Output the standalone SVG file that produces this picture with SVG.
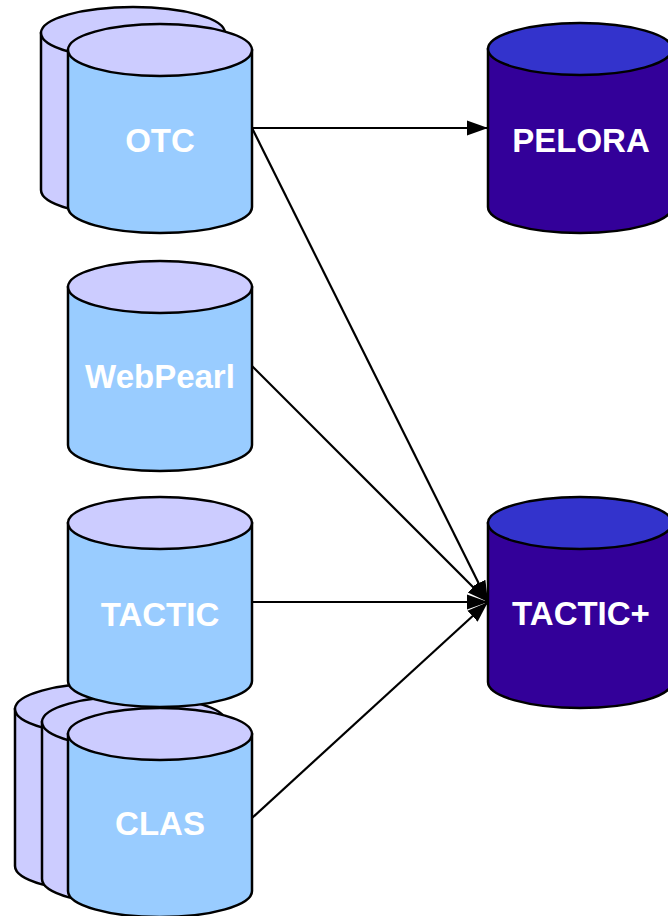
<svg xmlns="http://www.w3.org/2000/svg" width="668" height="916" viewBox="0 0 668 916">
  <style>
    .side { stroke: #000; stroke-width: 2.5; }
    .light .body { fill: #99CCFF; }
    .light .top, .light .back { fill: #CCCCFF; }
    .dark .body { fill: #330099; }
    .dark .top { fill: #3333CC; }
    .label { font-family: "Liberation Sans", Arial, sans-serif; font-weight: bold; font-size: 33px; fill: #FFFFFF; text-anchor: middle; }
    .conn { stroke: #000; stroke-width: 2.2; fill: none; }
  </style>
  <defs>
    <marker id="arrow" markerUnits="userSpaceOnUse" markerWidth="24" markerHeight="18" refX="21" refY="9" orient="auto">
      <path d="M0,1.5 L21,9 L0,16.5 Z" fill="#000"/>
    </marker>
  </defs>
  <rect width="668" height="916" fill="#FFFFFF"/>

  <!-- OTC: stacked pair of cylinders -->
  <g id="otc" class="light">
    <path class="side back" d="M41,33 V190 A92,26 0 0 0 225,190 V33 Z"/>
    <ellipse class="side top" cx="133" cy="33" rx="92" ry="26"/>
    <path class="side body" d="M68,50 V207 A92,26 0 0 0 252,207 V50 Z"/>
    <ellipse class="side top" cx="160" cy="50" rx="92" ry="26"/>
    <text class="label" x="160" y="152">OTC</text>
  </g>

  <!-- WebPearl -->
  <g id="webpearl" class="light">
    <path class="side body" d="M68,287 V445 A92,26 0 0 0 252,445 V287 Z"/>
    <ellipse class="side top" cx="160" cy="287" rx="92" ry="26"/>
    <text class="label" x="160" y="388">WebPearl</text>
  </g>

  <!-- CLAS rear cylinders sit behind TACTIC -->
  <g id="clas-back" class="light">
    <path class="side back" d="M15,709 V866 A92,26 0 0 0 199,866 V709 Z"/>
    <ellipse class="side top" cx="107" cy="709" rx="92" ry="26"/>
    <path class="side back" d="M42,722 V879 A92,26 0 0 0 226,879 V722 Z"/>
    <ellipse class="side top" cx="134" cy="722" rx="92" ry="26"/>
  </g>

  <!-- TACTIC -->
  <g id="tactic" class="light">
    <path class="side body" d="M68,523 V681 A92,26 0 0 0 252,681 V523 Z"/>
    <ellipse class="side top" cx="160" cy="523" rx="92" ry="26"/>
    <text class="label" x="160" y="626">TACTIC</text>
  </g>

  <!-- CLAS front cylinder -->
  <g id="clas" class="light">
    <path class="side body" d="M68,734 V891 A92,26 0 0 0 252,891 V734 Z"/>
    <ellipse class="side top" cx="160" cy="734" rx="92" ry="26"/>
    <text class="label" x="160" y="835">CLAS</text>
  </g>

  <!-- PELORA -->
  <g id="pelora" class="dark">
    <path class="side body" d="M488,49 V207 A92,26 0 0 0 672,207 V49 Z"/>
    <ellipse class="side top" cx="580" cy="49" rx="92" ry="26"/>
    <text class="label" x="581" y="152">PELORA</text>
  </g>

  <!-- TACTIC+ -->
  <g id="tacticplus" class="dark">
    <path class="side body" d="M488,523 V682 A92,26 0 0 0 672,682 V523 Z"/>
    <ellipse class="side top" cx="580" cy="523" rx="92" ry="26"/>
    <text class="label" x="581" y="625">TACTIC+</text>
  </g>

  <!-- connectors -->
  <g id="connectors">
    <line class="conn" x1="252" y1="128" x2="488" y2="128" marker-end="url(#arrow)"/>
    <line class="conn" x1="252" y1="128" x2="488" y2="602" marker-end="url(#arrow)"/>
    <line class="conn" x1="252" y1="366" x2="488" y2="602" marker-end="url(#arrow)"/>
    <line class="conn" x1="252" y1="602" x2="488" y2="602" marker-end="url(#arrow)"/>
    <line class="conn" x1="252" y1="818" x2="488" y2="602" marker-end="url(#arrow)"/>
  </g>
</svg>
